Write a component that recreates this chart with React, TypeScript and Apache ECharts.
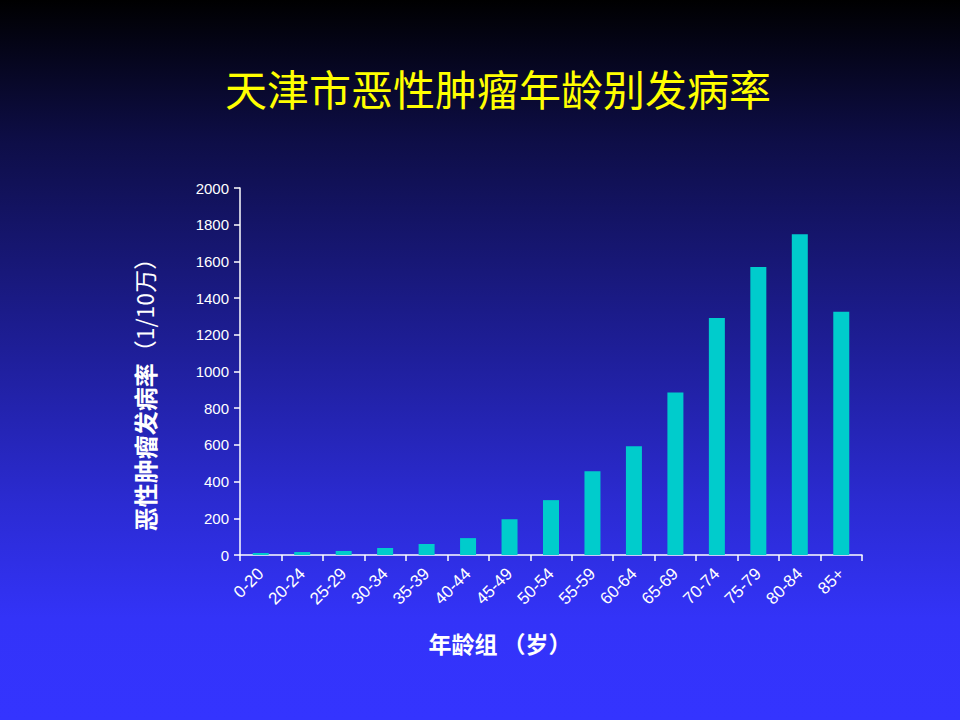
import React, { useEffect, useRef } from "react";
import * as echarts from "echarts";

const categories = ["0-20", "20-24", "25-29", "30-34", "35-39", "40-44", "45-49", "50-54", "55-59", "60-64", "65-69", "70-74", "75-79", "80-84", "85+"];
const incidence = [11, 16, 22, 38, 60, 92, 195, 299, 456, 592, 885, 1292, 1569, 1748, 1325];
const yTicks = { min: 0, max: 2000, interval: 200 };
const titleText = "天津市恶性肿瘤年龄别发病率";
const yName = "恶性肿瘤发病率";
const yUnit = "（1/10万）";
const xName = "年龄组 （岁）";

const LATIN = "'Liberation Sans', Arial, 'Noto Sans CJK SC', sans-serif";
const CJK = "'Noto Sans CJK SC', 'Liberation Sans', sans-serif";

export default function App() {
  const ref = useRef<HTMLDivElement>(null);
  useEffect(() => {
    if (!ref.current) return;
    const chart = echarts.init(ref.current, undefined, { renderer: "svg" });
    chart.setOption({
      animation: false,
      backgroundColor: {
        type: "linear",
        x: 0, y: 0, x2: 0, y2: 1,
        colorStops: [
          { offset: 0, color: "#000000" },
          { offset: 0.2, color: "#0e0e48" },
          { offset: 0.45, color: "#1c1c8e" },
          { offset: 0.7, color: "#2b2bd2" },
          { offset: 0.86, color: "#3333f8" },
          { offset: 1, color: "#3434ff" },
        ],
      },
      grid: { left: 240, right: 98, top: 188, bottom: 165, containLabel: false },
      xAxis: {
        type: "category",
        data: categories,
        boundaryGap: true,
        axisLine: { show: true, lineStyle: { color: "#ffffff", width: 1.5 } },
        axisTick: { show: true, alignWithLabel: false, length: 6, lineStyle: { color: "#ffffff", width: 1.5 } },
        axisLabel: { color: "#ffffff", fontSize: 17, fontFamily: LATIN, rotate: 45, margin: 16, interval: 0 },
        splitLine: { show: false },
      },
      yAxis: {
        type: "value",
        min: yTicks.min,
        max: yTicks.max,
        interval: yTicks.interval,
        axisLine: { show: true, lineStyle: { color: "#ffffff", width: 1.5 } },
        axisTick: { show: true, length: 6, lineStyle: { color: "#ffffff", width: 1.5 } },
        axisLabel: { color: "#ffffff", fontSize: 15, fontFamily: LATIN, margin: 11, formatter: (v: number) => String(v) },
        splitLine: { show: false },
      },
      series: [
        {
          type: "bar",
          data: incidence,
          barWidth: 16,
          itemStyle: { color: "#00cccc" },
        },
      ],
      graphic: [
        {
          type: "text",
          x: 498,
          y: 87,
          style: {
            text: titleText,
            fill: "#ffff00",
            font: `42px ${CJK}`,
            textAlign: "center",
            textVerticalAlign: "middle",
          },
        },
        {
          type: "text",
          x: 144,
          y: 389,
          rotation: Math.PI / 2,
          style: {
            text: `{a|${yName}}{b|${yUnit}}`,
            rich: {
              a: { fill: "#ffffff", fontSize: 24, fontWeight: "bold", fontFamily: CJK },
              b: { fill: "#ffffff", fontSize: 23, fontFamily: CJK },
            },
            fill: "#ffffff",
            textAlign: "center",
            textVerticalAlign: "middle",
          },
        },
        {
          type: "text",
          x: 500,
          y: 643,
          style: {
            text: xName,
            fill: "#ffffff",
            font: `bold 23px ${CJK}`,
            textAlign: "center",
            textVerticalAlign: "middle",
          },
        },
      ],
    });
    return () => chart.dispose();
  }, []);
  return (
    <div style={{ position: "fixed", left: 0, top: 0, width: 960, height: 720 }}>
      <div ref={ref} style={{ width: 960, height: 720 }} />
    </div>
  );
}
